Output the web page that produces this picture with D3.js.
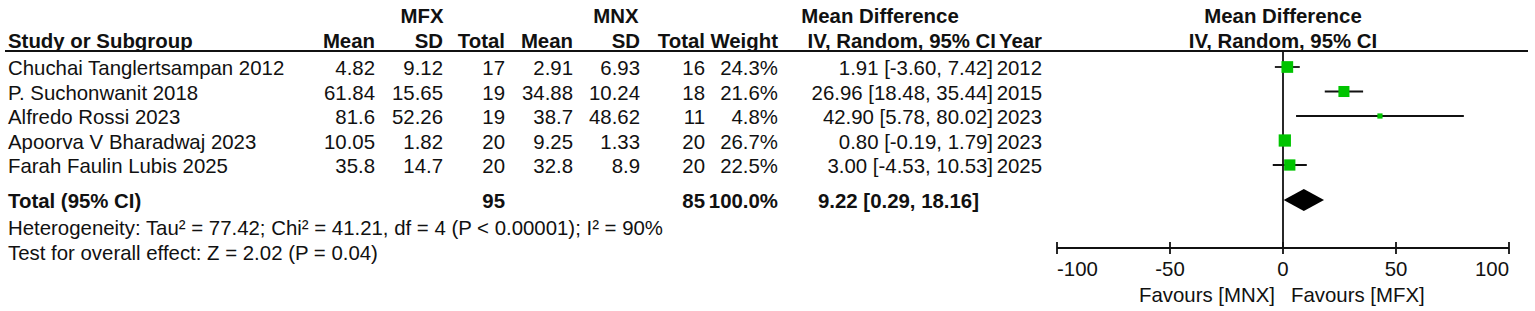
<!DOCTYPE html>
<html>
<head>
<meta charset="utf-8">
<script src="https://cdn.jsdelivr.net/npm/d3@7"></script>
<style>
  html, body { margin: 0; padding: 0; background: #fff; }
  svg { display: block; }
  text { font-family: "Liberation Sans", Arial, sans-serif; font-size: 20.4px; fill: #111; }
  .b { font-weight: bold; }
</style>
</head>
<body>
<svg id="chart" width="1535" height="311"></svg>
<script>
// ---- data ----
const studies = ["Chuchai Tanglertsampan 2012", "P. Suchonwanit 2018", "Alfredo Rossi 2023", "Apoorva V Bharadwaj 2023", "Farah Faulin Lubis 2025"];
const mfxMean = ["4.82", "61.84", "81.6", "10.05", "35.8"];
const mfxSD = ["9.12", "15.65", "52.26", "1.82", "14.7"];
const mfxTotal = [17, 19, 19, 20, 20];
const mnxMean = ["2.91", "34.88", "38.7", "9.25", "32.8"];
const mnxSD = ["6.93", "10.24", "48.62", "1.33", "8.9"];
const mnxTotal = [16, 18, 11, 20, 20];
const weights = [24.3, 21.6, 4.8, 26.7, 22.5];
const md = [1.91, 26.96, 42.90, 0.80, 3.00];
const ciLow = [-3.60, 18.48, 5.78, -0.19, -4.53];
const ciHigh = [7.42, 35.44, 80.02, 1.79, 10.53];
const years = [2012, 2015, 2023, 2023, 2025];
const pooled = { md: 9.22, lo: 0.29, hi: 18.16, mfxN: 95, mnxN: 85, weight: "100.0%" };
const heterogeneity = "Heterogeneity: Tau\u00B2 = 77.42; Chi\u00B2 = 41.21, df = 4 (P < 0.00001); I\u00B2 = 90%";
const overall = "Test for overall effect: Z = 2.02 (P = 0.04)";
const axisTicks = [-100, -50, 0, 50, 100];
const favLeft = "Favours [MNX]";
const favRight = "Favours [MFX]";

// ---- layout ----
const svg = d3.select("#chart");
const x = d3.scaleLinear().domain([-100, 100]).range([1057, 1509]);
const rowY = d3.scaleLinear().domain([0, 4]).range([75, 173]);   // text baselines
const totalY = 208, hetY = 235, testY = 260;
const h1 = 23, h2 = 48, lineY = 51;
const axisY = 248;
const col = { mfxMean: 375, mfxSD: 443, mfxTotal: 505, mnxMean: 573, mnxSD: 640, mnxTotal: 705, weight: 778, ci: 993, year: 1042 };
const fmt2 = v => d3.format(".2f")(v).replace("\u2212", "-");
const fmtTick = v => String(v);

function txt(g, xx, yy, s, anchor, bold) {
  return g.append("text").attr("x", xx).attr("y", yy).attr("text-anchor", anchor || "start")
    .attr("class", bold ? "b" : null).text(s);
}

// headers
const hdr = svg.append("g");
txt(hdr, 422, h1, "MFX", "middle", true);
txt(hdr, 616, h1, "MNX", "middle", true);
txt(hdr, 880, h1, "Mean Difference", "middle", true);
txt(hdr, x(0), h1, "Mean Difference", "middle", true);
txt(hdr, 8, h2, "Study or Subgroup", "start", true);
txt(hdr, col.mfxMean, h2, "Mean", "end", true);
txt(hdr, col.mfxSD, h2, "SD", "end", true);
txt(hdr, col.mfxTotal, h2, "Total", "end", true);
txt(hdr, col.mnxMean, h2, "Mean", "end", true);
txt(hdr, col.mnxSD, h2, "SD", "end", true);
txt(hdr, col.mnxTotal, h2, "Total", "end", true);
txt(hdr, col.weight, h2, "Weight", "end", true);
txt(hdr, col.ci + 3, h2, "IV, Random, 95% CI", "end", true);
txt(hdr, col.year, h2, "Year", "end", true);
txt(hdr, x(0), h2, "IV, Random, 95% CI", "middle", true);
svg.append("line").attr("x1", 5).attr("x2", 1528).attr("y1", lineY).attr("y2", lineY)
  .attr("stroke", "#111").attr("stroke-width", 1.8);

// study rows
const rows = svg.append("g");
studies.forEach((s, i) => {
  const y = rowY(i);
  txt(rows, 8, y, s);
  txt(rows, col.mfxMean, y, mfxMean[i], "end");
  txt(rows, col.mfxSD, y, mfxSD[i], "end");
  txt(rows, col.mfxTotal, y, mfxTotal[i], "end");
  txt(rows, col.mnxMean, y, mnxMean[i], "end");
  txt(rows, col.mnxSD, y, mnxSD[i], "end");
  txt(rows, col.mnxTotal, y, mnxTotal[i], "end");
  txt(rows, col.weight, y, weights[i].toFixed(1) + "%", "end");
  txt(rows, col.ci, y, fmt2(md[i]) + " [" + fmt2(ciLow[i]) + ", " + fmt2(ciHigh[i]) + "]", "end");
  txt(rows, col.year, y, years[i], "end");
});

// total rows
txt(rows, 8, totalY, "Total (95% CI)", "start", true);
txt(rows, col.mfxTotal, totalY, pooled.mfxN, "end", true);
txt(rows, col.mnxTotal, totalY, pooled.mnxN, "end", true);
txt(rows, col.weight, totalY, pooled.weight, "end", true);
txt(rows, col.ci - 14, totalY, fmt2(pooled.md) + " [" + fmt2(pooled.lo) + ", " + fmt2(pooled.hi) + "]", "end", true);
txt(rows, 8, hetY, heterogeneity);
txt(rows, 8, testY, overall);

// forest plot
const plot = svg.append("g");
plot.append("line").attr("x1", x(0)).attr("x2", x(0)).attr("y1", lineY).attr("y2", axisY)
  .attr("stroke", "#111").attr("stroke-width", 1.8);
const side = d3.scaleSqrt().domain([0, 30]).range([0, 13]);
studies.forEach((s, i) => {
  const cy = rowY(i) - 8;
  plot.append("line").attr("x1", x(ciLow[i])).attr("x2", x(ciHigh[i])).attr("y1", cy).attr("y2", cy)
    .attr("stroke", "#111").attr("stroke-width", 1.8);
  const w = side(weights[i]);
  plot.append("rect").attr("x", x(md[i]) - w / 2).attr("y", cy - w / 2).attr("width", w).attr("height", w)
    .attr("fill", "#00c400");
});
const dy = totalY - 8;
plot.append("path")
  .attr("d", `M${x(pooled.lo)},${dy} L${x(pooled.md)},${dy - 11} L${x(pooled.hi)},${dy} L${x(pooled.md)},${dy + 11} Z`)
  .attr("fill", "#000");

// axis
const ax = svg.append("g").attr("transform", `translate(0,${axisY})`);
ax.append("line").attr("x1", x(-100)).attr("x2", x(100)).attr("stroke", "#111").attr("stroke-width", 1.8);
axisTicks.forEach((t, i) => {
  ax.append("line").attr("x1", x(t)).attr("x2", x(t)).attr("y1", -6).attr("y2", 6)
    .attr("stroke", "#111").attr("stroke-width", 1.8);
  const anchor = i === 0 ? "start" : (i === axisTicks.length - 1 ? "end" : "middle");
  txt(ax, x(t), 28, fmtTick(t), anchor);
});
txt(svg, x(0) - 8, 302, favLeft, "end");
txt(svg, x(0) + 8, 302, favRight, "start");
</script>
</body>
</html>
